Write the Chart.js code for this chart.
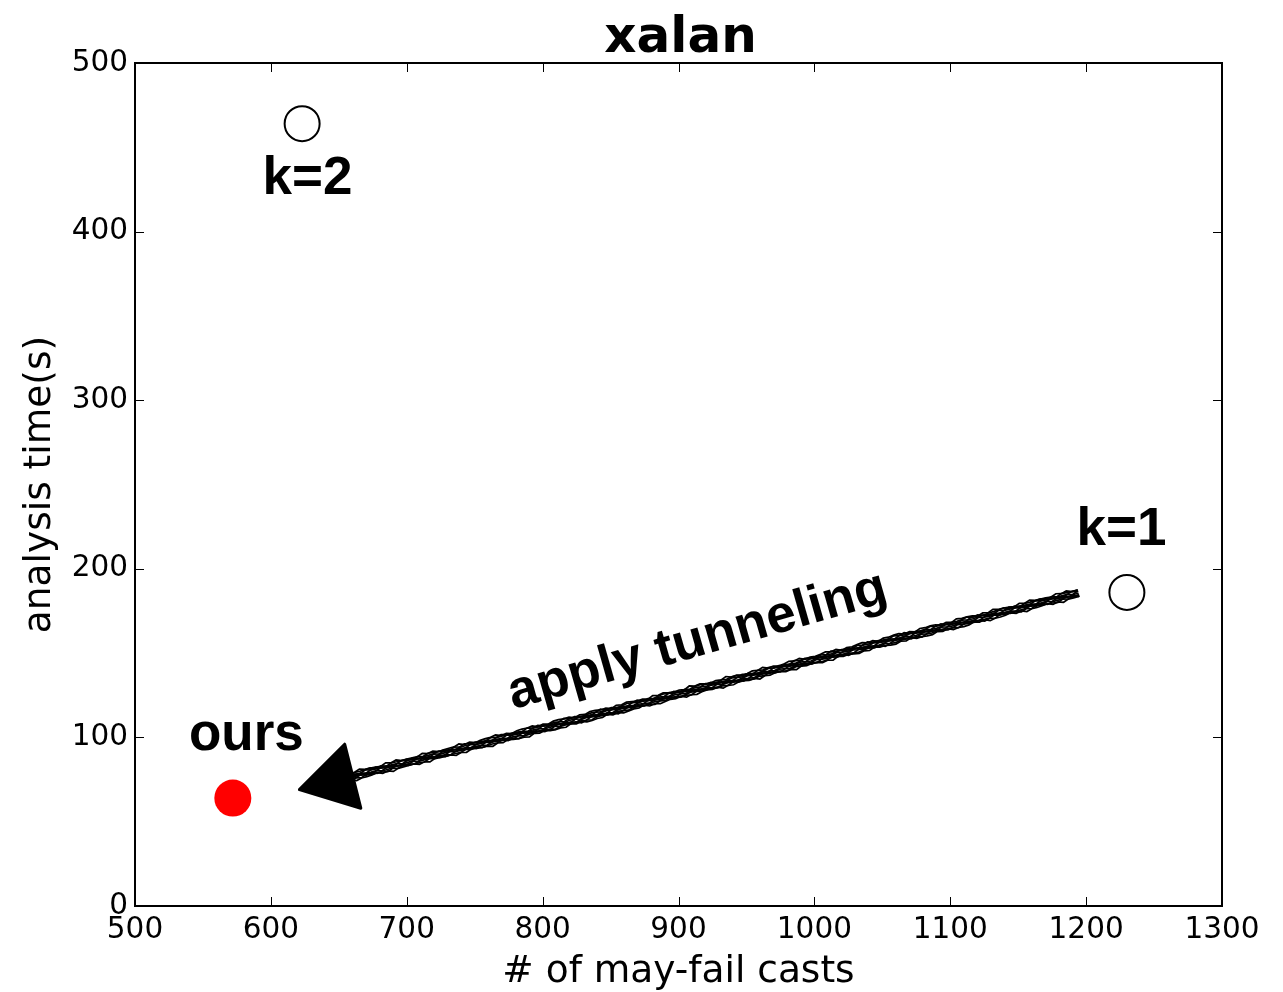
<!DOCTYPE html>
<html>
<head>
<meta charset="utf-8">
<script src="https://cdn.jsdelivr.net/npm/chart.js@4"></script>
<style>
  html, body { margin: 0; padding: 0; background: #fff; }
  #wrap { width: 1283px; height: 992px; }
</style>
</head>
<body>
<div id="wrap"><canvas id="xalanChart" width="1283" height="992"></canvas></div>
<script>
// values
const names = ['k=1', 'k=2', 'ours'];
const casts = [1230, 623, 572];
const times = [186, 464, 64];
const xTicks = [500, 600, 700, 800, 900, 1000, 1100, 1200, 1300];
const yTicks = [0, 100, 200, 300, 400, 500];

// label placement in data units
const notes = [
  { text: 'k=1', x: 1226, y: 223 },
  { text: 'k=2', x: 627, y: 431 },
  { text: 'ours', x: 582, y: 101 }
];
const arrowFrom = { x: 1194, y: 185.5 };
const arrowTo = { x: 621, y: 69 };

const tickFont = { family: 'DejaVu Sans', size: 29.5 };
const labelFont = { family: 'DejaVu Sans', size: 37.5, lineHeight: 1.0 };
const noteFont = 'bold 53px "Liberation Sans", Arial, sans-serif';

const framePlugin = {
  id: 'frame',
  afterDraw(chart) {
    const { ctx, chartArea: a, scales } = chart;
    ctx.save();
    // inward ticks on all four sides
    ctx.strokeStyle = '#000';
    ctx.lineWidth = 1;
    ctx.beginPath();
    xTicks.forEach(v => {
      const px = Math.round(scales.x.getPixelForValue(v)) + 0.5;
      ctx.moveTo(px, a.bottom); ctx.lineTo(px, a.bottom - 9);
      ctx.moveTo(px, a.top); ctx.lineTo(px, a.top + 9);
    });
    yTicks.forEach(v => {
      const py = Math.round(scales.y.getPixelForValue(v)) + 0.5;
      ctx.moveTo(a.left, py); ctx.lineTo(a.left + 9, py);
      ctx.moveTo(a.right, py); ctx.lineTo(a.right - 9, py);
    });
    ctx.stroke();
    ctx.lineWidth = 2;
    ctx.strokeRect(a.left, a.top, a.right - a.left, a.bottom - a.top);

    // title centred over the plot box
    ctx.fillStyle = '#000';
    ctx.font = 'bold 50px "DejaVu Sans"';
    ctx.textAlign = 'center';
    ctx.textBaseline = 'alphabetic';
    ctx.fillText('xalan', (a.left + a.right) / 2 + 2, 52);
    ctx.restore();
  }
};

const notesPlugin = {
  id: 'notes',
  afterDatasetsDraw(chart) {
    const { ctx, scales } = chart;
    const sx = scales.x, sy = scales.y;
    ctx.save();
    ctx.fillStyle = '#000';
    ctx.font = noteFont;
    ctx.textAlign = 'center';
    ctx.textBaseline = 'middle';
    notes.forEach(n => {
      ctx.fillText(n.text, sx.getPixelForValue(n.x), sy.getPixelForValue(n.y));
    });

    // sketchy arrow
    const x0 = sx.getPixelForValue(arrowFrom.x), y0 = sy.getPixelForValue(arrowFrom.y);
    const x1 = sx.getPixelForValue(arrowTo.x), y1 = sy.getPixelForValue(arrowTo.y);
    const len = Math.hypot(x1 - x0, y1 - y0);
    const ux = (x1 - x0) / len, uy = (y1 - y0) / len;
    const nx = -uy, ny = ux;
    const headLen = 55, headHalf = 33;
    const bx = x1 - ux * headLen, by = y1 - uy * headLen;
    ctx.strokeStyle = '#000';
    ctx.lineCap = 'round';
    for (let k = -4; k <= 4; k++) {
      ctx.lineWidth = 1.7;
      ctx.beginPath();
      const steps = 140;
      for (let i = 0; i <= steps; i++) {
        const t = i / steps;
        const wob = Math.sin(i * 2.7 + k * 2.3) * 0.9 + Math.sin(i * 5.3 + k * 1.1) * 0.7;
        const off = k * 0.95 + wob;
        const px = x0 + (bx + ux * 8 - x0) * t + nx * off;
        const py = y0 + (by + uy * 8 - y0) * t + ny * off;
        if (i === 0) ctx.moveTo(px, py); else ctx.lineTo(px, py);
      }
      ctx.stroke();
    }
    ctx.beginPath();
    ctx.moveTo(x1, y1);
    ctx.lineTo(bx + nx * headHalf, by + ny * headHalf);
    ctx.lineTo(bx - nx * headHalf, by - ny * headHalf);
    ctx.closePath();
    ctx.fill();
    ctx.lineWidth = 3;
    ctx.lineJoin = 'round';
    ctx.stroke();

    // rotated caption above the arrow
    ctx.save();
    ctx.translate(sx.getPixelForValue(914), sy.getPixelForValue(157));
    ctx.rotate(-16 * Math.PI / 180);
    ctx.fillText('apply tunneling', 0, 0);
    ctx.restore();
    ctx.restore();
  }
};

const ctx1 = document.getElementById('xalanChart').getContext('2d');
new Chart(ctx1, {
  type: 'scatter',
  data: {
    datasets: [
      {
        label: 'k-limited',
        data: [
          { x: casts[0], y: times[0] },
          { x: casts[1], y: times[1] }
        ],
        pointRadius: 17.5,
        pointBorderWidth: 2,
        pointBackgroundColor: '#fff',
        pointBorderColor: '#000'
      },
      {
        label: names[2],
        data: [{ x: casts[2], y: times[2] }],
        pointRadius: 18.5,
        pointBorderWidth: 0,
        pointBackgroundColor: '#ff0000',
        pointBorderColor: '#ff0000'
      }
    ]
  },
  options: {
    responsive: false,
    animation: false,
    layout: { padding: { top: 63, right: 61, bottom: 0, left: 0 } },
    plugins: {
      legend: { display: false },
      tooltip: { enabled: false },
      title: { display: false }
    },
    scales: {
      x: {
        type: 'linear',
        min: 500,
        max: 1300,
        afterBuildTicks: s => { s.ticks = xTicks.map(v => ({ value: v })); },
        afterFit: s => { s.height = 86; },
        grid: { display: false, drawTicks: false },
        border: { display: false },
        ticks: { color: '#000', font: tickFont, padding: 7, maxRotation: 0, callback: v => String(v) },
        title: { display: true, text: '# of may-fail casts', color: '#000', font: labelFont, padding: { top: 0, bottom: 1 } }
      },
      y: {
        type: 'linear',
        min: 0,
        max: 500,
        afterBuildTicks: s => { s.ticks = yTicks.map(v => ({ value: v })); },
        afterFit: s => { s.width = 135; },
        grid: { display: false, drawTicks: false },
        border: { display: false },
        ticks: { color: '#000', font: tickFont, padding: 7, callback: v => String(v) },
        title: { display: true, text: 'analysis time(s)', color: '#000', font: labelFont, padding: { top: 22, bottom: 0 } }
      }
    }
  },
  plugins: [framePlugin, notesPlugin]
});
</script>
</body>
</html>
